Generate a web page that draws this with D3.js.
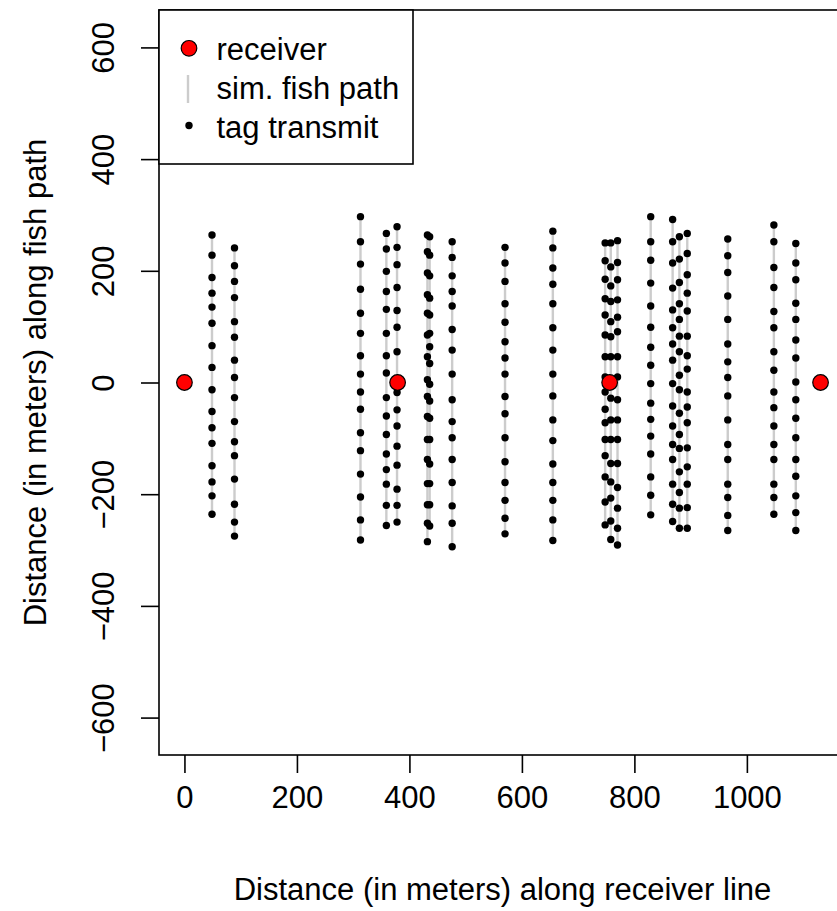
<!DOCTYPE html>
<html>
<head>
<meta charset="utf-8">
<script src="https://cdn.jsdelivr.net/npm/d3@7/dist/d3.min.js"></script>
<style>
  html, body { margin: 0; padding: 0; background: #ffffff; }
  svg { display: block; }
  text { font-family: "Liberation Sans", Arial, sans-serif; fill: #000; }
</style>
</head>
<body>
<svg id="chart" width="837" height="911"></svg>
<script>
// ---------------- DATA ----------------
const receiverX = [0, 379, 756, 1131];
const receiverY = [0, 0, 0, 0];

const xTicks = [0, 200, 400, 600, 800, 1000];
const yTicks = [-600, -400, -200, 0, 200, 400, 600];

const xTitle = "Distance (in meters) along receiver line";
const yTitle = "Distance (in meters) along fish path";
const legendLabels = ["receiver", "sim. fish path", "tag transmit"];

// x position (m along receiver line) of each simulated fish path
const pathX = [49, 89, 313, 359, 378, 432, 436, 476, 570, 655, 748, 758, 770, 829, 868, 880, 894, 966, 1048, 1087];

// y positions (m along fish path) of the tag transmissions of each path
const tagY01 = [264, 228, 188, 160, 135, 106, 66, 27, -13, -52, -81, -109, -149, -178, -203, -236];
const tagY02 = [241, 209, 181, 152, 109, 81, 40, 9, -27, -70, -106, -131, -173, -218, -250, -275];
const tagY03 = [297, 252, 212, 167, 124, 88, 48, 15, -17, -48, -90, -122, -164, -205, -246, -282];
const tagY04 = [267, 239, 199, 163, 131, 88, 48, 17, -27, -60, -93, -128, -156, -182, -220, -256];
const tagY05 = [279, 242, 211, 170, 129, 99, 55, 5, -18, -49, -78, -114, -148, -191, -220, -250];
const tagY06 = [264, 234, 196, 157, 124, 85, 46, 5, -25, -61, -102, -138, -181, -219, -252, -285];
const tagY07 = [261, 228, 191, 151, 121, 88, 64, 34, -3, -33, -64, -102, -146, -181, -219, -257];
const tagY08 = [252, 224, 191, 163, 137, 95, 58, 15, -31, -70, -99, -138, -179, -221, -252, -294];
const tagY09 = [242, 214, 181, 141, 108, 73, 44, 15, -25, -56, -99, -142, -179, -211, -243, -271];
const tagY10 = [271, 241, 205, 176, 141, 98, 58, 15, -24, -67, -104, -146, -179, -211, -246, -283];
const tagY11 = [250, 218, 185, 150, 121, 85, 46, 10, -17, -48, -72, -102, -131, -169, -214, -255];
const tagY12 = [250, 207, 173, 145, 109, 82, 46, 0, -28, -67, -102, -145, -178, -207, -248, -281];
const tagY13 = [254, 215, 184, 148, 117, 91, 46, 10, -31, -67, -102, -145, -188, -225, -261, -291];
const tagY14 = [297, 252, 219, 178, 137, 99, 63, 31, -2, -37, -66, -96, -128, -169, -202, -237];
const tagY15 = [292, 252, 214, 169, 130, 98, 69, 40, -2, -42, -78, -111, -138, -182, -218, -249];
const tagY16 = [261, 221, 179, 141, 113, 83, 55, 13, -13, -55, -93, -118, -160, -197, -225, -261];
const tagY17 = [267, 231, 193, 160, 128, 83, 48, 24, -17, -44, -72, -117, -151, -182, -224, -261];
const tagY18 = [257, 227, 197, 155, 113, 69, 37, 9, -24, -67, -111, -138, -182, -206, -238, -265];
const tagY19 = [282, 252, 206, 170, 127, 98, 55, 22, -17, -45, -78, -111, -138, -182, -206, -236];
const tagY20 = [249, 214, 184, 142, 113, 76, 44, 1, -31, -64, -99, -138, -168, -203, -233, -265];

const pathTagY = [tagY01, tagY02, tagY03, tagY04, tagY05, tagY06, tagY07, tagY08, tagY09, tagY10,
                  tagY11, tagY12, tagY13, tagY14, tagY15, tagY16, tagY17, tagY18, tagY19, tagY20];

// ---------------- CHART ----------------
const svg = d3.select("#chart");
const FONT = 31;
const plot = { left: 159, top: 10, bottom: 755, right: 846 };

const xExt = d3.extent(receiverX.concat(pathX));
const xPad = (xExt[1] - xExt[0]) * 0.04;
const x = d3.scaleLinear().domain([xExt[0] - xPad, xExt[1] + xPad]).range([plot.left, plot.right]);
const y = d3.scaleLinear().domain([-667, 667]).range([plot.bottom, plot.top]);

svg.append("rect").attr("x", 0).attr("y", 0).attr("width", 837).attr("height", 911).attr("fill", "#fff");

const paths = pathX.map((px, i) => ({ x: px, ys: pathTagY[i] }));

// fish paths (light grey vertical lines)
svg.append("g").selectAll("line").data(paths).join("line")
  .attr("x1", d => x(d.x)).attr("x2", d => x(d.x))
  .attr("y1", d => y(d3.max(d.ys))).attr("y2", d => y(d3.min(d.ys)))
  .attr("stroke", "#cccccc").attr("stroke-width", 2.4);

// tag transmissions (black dots)
const tags = paths.flatMap(p => p.ys.map(v => ({ x: p.x, y: v })));
svg.append("g").selectAll("circle").data(tags).join("circle")
  .attr("cx", d => x(d.x)).attr("cy", d => y(d.y)).attr("r", 3.7)
  .attr("fill", "#000");

// receivers
svg.append("g").selectAll("circle").data(receiverX.map((v, i) => ({ x: v, y: receiverY[i] }))).join("circle")
  .attr("cx", d => x(d.x)).attr("cy", d => y(d.y)).attr("r", 7.8)
  .attr("fill", "#ff0000").attr("stroke", "#000").attr("stroke-width", 1.2);

// plot box
svg.append("rect").attr("x", plot.left).attr("y", plot.top)
  .attr("width", plot.right - plot.left).attr("height", plot.bottom - plot.top)
  .attr("fill", "none").attr("stroke", "#000").attr("stroke-width", 1.6);

// x axis
const gx = svg.append("g").attr("transform", `translate(0,${plot.bottom})`)
  .call(d3.axisBottom(x).tickValues(xTicks).tickSize(18).tickPadding(13).tickFormat(d3.format("d")));
gx.select(".domain").remove();
gx.selectAll(".tick line").attr("stroke", "#000").attr("stroke-width", 1.6);
gx.selectAll(".tick text").attr("font-size", FONT).attr("font-family", "Liberation Sans, Arial, sans-serif");

// y axis
const gy = svg.append("g").attr("transform", `translate(${plot.left},0)`)
  .call(d3.axisLeft(y).tickValues(yTicks).tickSize(18).tickFormat(d3.format("d")));
gy.select(".domain").remove();
gy.selectAll(".tick line").attr("stroke", "#000").attr("stroke-width", 1.6);
gy.selectAll(".tick text")
  .attr("font-size", FONT).attr("font-family", "Liberation Sans, Arial, sans-serif")
  .attr("x", null).attr("dy", null).attr("text-anchor", "middle")
  .attr("transform", "translate(-45,0) rotate(-90)");

// axis titles
svg.append("text").attr("x", (plot.left + plot.right) / 2).attr("y", 900)
  .attr("text-anchor", "middle").attr("font-size", FONT).text(xTitle);
svg.append("text").attr("transform", `translate(46,${y(0)}) rotate(-90)`)
  .attr("text-anchor", "middle").attr("font-size", FONT).text(yTitle);

// legend
const lg = svg.append("g");
lg.append("rect").attr("x", plot.left).attr("y", plot.top).attr("width", 254).attr("height", 154)
  .attr("fill", "#fff").attr("stroke", "#000").attr("stroke-width", 1.6);
const itemY = [48.3, 87, 125.5];
lg.append("circle").attr("cx", 189).attr("cy", itemY[0]).attr("r", 7.8)
  .attr("fill", "#ff0000").attr("stroke", "#000").attr("stroke-width", 1.2);
lg.append("line").attr("x1", 188).attr("x2", 188).attr("y1", itemY[1] - 12).attr("y2", itemY[1] + 16)
  .attr("stroke", "#cccccc").attr("stroke-width", 2.4);
lg.append("circle").attr("cx", 189).attr("cy", itemY[2]).attr("r", 3.7).attr("fill", "#000");
lg.selectAll("text.lab").data(legendLabels).join("text").attr("class", "lab")
  .attr("x", 216.5).attr("y", (d, i) => itemY[i] + 12).attr("font-size", FONT).text(d => d);
</script>
</body>
</html>
